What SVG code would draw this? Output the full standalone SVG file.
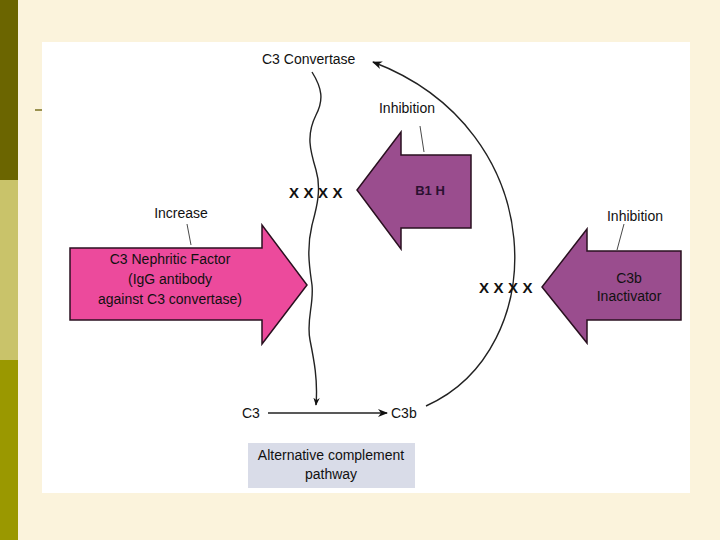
<svg xmlns="http://www.w3.org/2000/svg" width="720" height="540" viewBox="0 0 720 540">
<defs>
<marker id="ah" viewBox="0 0 10 10" refX="9" refY="5" markerWidth="8" markerHeight="8" orient="auto" markerUnits="userSpaceOnUse"><path d="M0,1 L10,5 L0,9 L3,5 Z" fill="#111"/></marker>
<marker id="ah2" viewBox="0 0 10 10" refX="9" refY="5" markerWidth="12" markerHeight="10" orient="auto" markerUnits="userSpaceOnUse"><path d="M0,1 L10,5 L0,9 L3,5 Z" fill="#111"/></marker>
</defs>
<style>
text{font-family:"Liberation Sans",Arial,sans-serif;fill:#111}
.lbl{font-size:14px}
.x{font-size:15px;font-weight:bold;letter-spacing:4.5px}
.in{font-size:14px;text-anchor:middle}
.ln{stroke:#222;stroke-width:1.4;fill:none}
.lead{stroke:#333;stroke-width:0.9;fill:none}
.pink{fill:#ec4a9c;stroke:#2a1020;stroke-width:1.5}
.purp{fill:#9a4d8e;stroke:#2a1020;stroke-width:1.5}
</style>
<rect width="720" height="540" fill="#fbf3dc"/>
<rect x="0" y="0" width="18" height="180" fill="#6b6500"/>
<rect x="0" y="180" width="18" height="180" fill="#c9c36a"/>
<rect x="0" y="360" width="18" height="180" fill="#9a9800"/>
<rect x="42" y="42" width="648" height="451" fill="#ffffff"/>
<line x1="35" y1="110" x2="42" y2="110" stroke="#7a7020" stroke-width="1.5"/>

<g id="connectors">
<path class="ln" d="M312,72 C322,88 324,100 316,115 C306,135 310,150 316,170 C322,190 316,210 312,225 C306,250 310,270 312,285 C314,305 306,320 310,340 C314,360 318,380 316,405" marker-end="url(#ah)"/>
<line class="ln" x1="268" y1="413" x2="387" y2="413" marker-end="url(#ah2)"/>
<path class="ln" d="M426,406 C552,350 552,130 373,62" marker-end="url(#ah2)"/>
<line class="lead" x1="420" y1="126" x2="424" y2="152"/>
<line class="lead" x1="187" y1="224" x2="191" y2="245"/>
<line class="lead" x1="624" y1="224" x2="617" y2="250"/>
</g>

<g id="c3convertase"><text class="lbl" x="262" y="64">C3 Convertase</text></g>
<g id="c3"><text class="lbl" x="242" y="418">C3</text></g>
<g id="c3b"><text class="lbl" x="391" y="418">C3b</text></g>

<g id="b1h">
<path class="purp" d="M471,155 L401,155 L401,132 L357,190 L401,249 L401,228 L471,228 Z"/>
<text x="430" y="195" style="font-size:13px;font-weight:bold;text-anchor:middle;fill:#2a1030">B1 H</text>
<text class="lbl" x="407" y="113" text-anchor="middle">Inhibition</text>
<text class="x" x="289" y="198">XXXX</text>
</g>

<g id="nephritic">
<path class="pink" d="M70,248 L262,248 L262,225 L307,285 L262,344 L262,320 L70,320 Z"/>
<text class="in" x="170" y="264">C3 Nephritic Factor</text>
<text class="in" x="170" y="284">(IgG antibody</text>
<text class="in" x="170" y="304">against C3 convertase)</text>
<text class="lbl" x="181" y="218" text-anchor="middle">Increase</text>
</g>

<g id="inactivator">
<path class="purp" d="M681,251 L587,251 L587,229 L542,287 L587,343 L587,320 L681,320 Z"/>
<text class="in" x="629" y="283">C3b</text>
<text class="in" x="629" y="301">Inactivator</text>
<text class="lbl" x="635" y="221" text-anchor="middle">Inhibition</text>
<text class="x" x="479" y="293">XXXX</text>
</g>

<g id="pathway">
<rect x="248" y="443" width="167" height="45" fill="#d9dce8"/>
<text class="in" x="331" y="460">Alternative complement</text>
<text class="in" x="331" y="479">pathway</text>
</g>
</svg>
